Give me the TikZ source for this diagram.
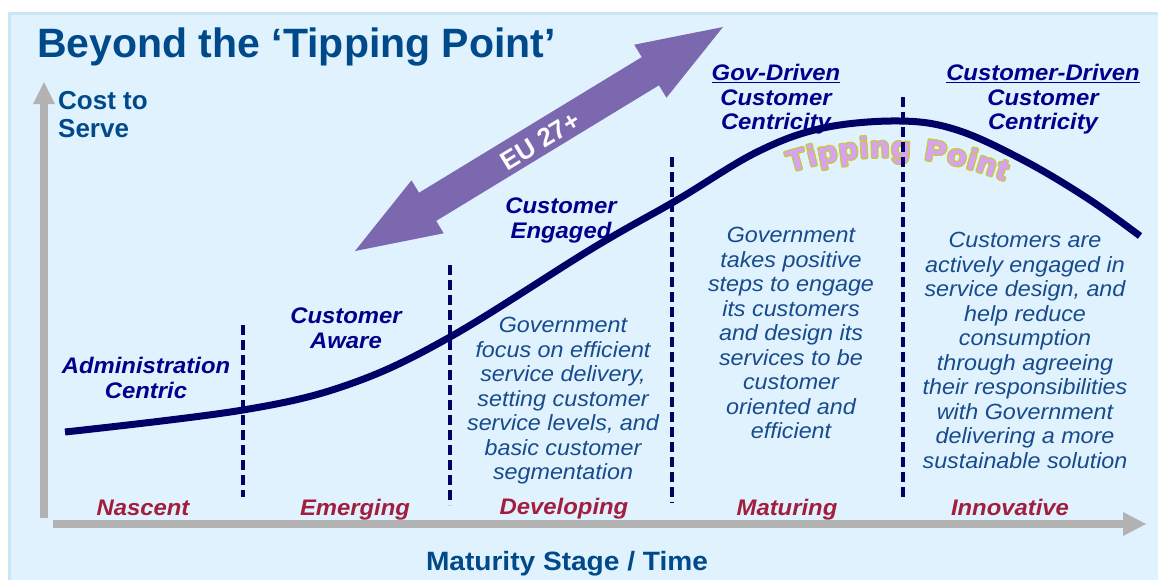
\documentclass[tikz,border=0pt]{standalone}
\usepackage{fontspec}
\setmainfont{Liberation Sans}
\newfontfamily\bodyfont[FakeStretch=1.06]{Liberation Sans}
\newfontfamily\tipfont[FakeBold=2.6,FakeStretch=1.08]{Liberation Sans}
\usetikzlibrary{decorations.text}
\definecolor{bgfill}{HTML}{E0F2FD}
\definecolor{bgline}{HTML}{C9E6F4}
\definecolor{axisgray}{HTML}{B2B2B2}
\definecolor{curvenavy}{HTML}{000066}
\definecolor{headnavy}{HTML}{00008C}
\definecolor{descblue}{HTML}{174B8E}
\definecolor{titleblue}{HTML}{004A8C}
\definecolor{stagered}{HTML}{A11E3F}
\definecolor{arrowpurple}{HTML}{7B68AE}
\definecolor{tipviolet}{HTML}{D7A2F2}
\definecolor{tipoutline}{HTML}{C8C83C}
\begin{document}
\begin{tikzpicture}[x=1pt,y=-1pt,
  heading/.style={inner sep=0pt, anchor=north, align=center, text=headnavy,
    font=\bodyfont\bfseries\itshape\fontsize{22.5}{24.5}\selectfont},
  desc/.style={inner sep=0pt, anchor=north, align=center, text=descblue,
    font=\bodyfont\itshape\fontsize{22}{24.5}\selectfont},
  stage/.style={inner sep=0pt, anchor=base, text=stagered,
    font=\bodyfont\bfseries\itshape\fontsize{22.5}{27}\selectfont},
  divider/.style={curvenavy, line width=3.2pt, dash pattern=on 10pt off 5pt},
  tipword/.style n args={2}{decorate, decoration={text along path, text align={fit to path},
    text color=#1, text={|\tipfont\bfseries\fontsize{29}{34}\selectfont|#2}}}]
\useasboundingbox (0,0) rectangle (1158,579);
% background panel
\fill[white] (0,0) rectangle (1158,579);
\fill[bgfill] (9,12) rectangle (1162,583);
\draw[bgline, line width=3pt] (9.5,13.5) rectangle (1162,583);

% title and axis labels
\node[inner sep=0pt, anchor=base west, text=titleblue,
  font=\bfseries\fontsize{41}{49}\selectfont] (title) at (37,57) {Beyond the ‘Tipping Point’};
\node[inner sep=0pt, anchor=north west, align=left, text=titleblue,
  font=\bfseries\fontsize{26}{28}\selectfont] (ylabel) at (58,91) {Cost to\\Serve};
\node[inner sep=0pt, anchor=base, text=titleblue,
  font=\bodyfont\bfseries\fontsize{26.5}{30}\selectfont] (xlabel) at (567,570) {Maturity Stage / Time};

% axes
\fill[axisgray] (40,518) rectangle (48,103);
\fill[axisgray] (33,104) -- (44,82) -- (55,104) -- cycle;
\fill[axisgray] (53,520) rectangle (1123,528);
\fill[axisgray] (1123,512) -- (1146,524) -- (1123,536) -- cycle;

% EU 27+ double arrow
\fill[arrowpurple, shift={(355,251)}, rotate=31.33]
  (0,0) -- (85,-31) -- (85,-16.5) -- (345.8,-16.5) -- (345.8,-31) -- (430.8,0)
  -- (345.8,31) -- (345.8,16.5) -- (85,16.5) -- (85,31) -- cycle;
\node[inner sep=0pt, text=white, rotate=31.33,
  font=\bfseries\fontsize{26}{30}\selectfont] (eu) at (540,141) {EU 27+};

% Tipping Point arched text (two words, each fitted to its part of the arc)
\foreach \dx/\dy in {-1.3/0,1.3/0,0/-1.3,0/1.3,-0.9/-0.9,0.9/0.9,-0.9/0.9,0.9/-0.9}{
  \path[tipword={tipoutline}{Tipping}, shift={(\dx,\dy)}] (790,172) .. controls (830,159.4) and (870,154.7) .. (910,158);
  \path[tipword={tipoutline}{Point}, shift={(\dx,\dy)}] (924,159.5) .. controls (950.7,163) and (977.3,170) .. (1004,180.5);
}
\path[tipword={tipviolet}{Tipping}] (790,172) .. controls (830,159.4) and (870,154.7) .. (910,158);
\path[tipword={tipviolet}{Point}] (924,159.5) .. controls (950.7,163) and (977.3,170) .. (1004,180.5);

% stage headings
\node[heading] (hadmin) at (146,357) {Administration\\Centric};
\node[heading] (haware) at (346,308) {Customer\\Aware};
\node[heading] (hengaged) at (561,198) {Customer\\Engaged};
\node[heading] (hgov) at (776,64) {\underline{Gov-Driven}\\Customer\\Centricity};
\node[heading] (hcust) at (1043,64) {\underline{Customer-Driven}\\Customer\\Centricity};

% descriptions
\node[desc] (ddev) at (563,317) {Government\\focus on efficient\\service delivery,\\setting customer\\service levels, and\\basic customer\\segmentation};
\node[desc] (dmat) at (791,227) {Government\\takes positive\\steps to engage\\its customers\\and design its\\services to be\\customer\\oriented and\\efficient};
\node[desc] (dinn) at (1025,232) {Customers are\\actively engaged in\\service design, and\\help reduce\\consumption\\through agreeing\\their responsibilities\\with Government\\delivering a more\\sustainable solution};

% stage labels
\node[stage] (snas) at (143,515) {Nascent};
\node[stage] (seme) at (355,515) {Emerging};
\node[stage] (sdev) at (564,514) {Developing};
\node[stage] (smat) at (787,515) {Maturing};
\node[stage] (sinn) at (1010,515) {Innovative};

% maturity curve
\draw[curvenavy, line width=7pt] plot[smooth, tension=0.6] coordinates {
  (65,432) (243,410) (350,384) (450,337) (593,248)
  (677,200) (757,152) (823,128) (900,121) (957,130) (1023,160) (1087,198) (1140,236)};

% dividers
\draw[divider] (243,325) -- (243,497);
\draw[divider] (450,265) -- (450,505);
\draw[divider] (672,157) -- (672,503);
\draw[divider] (903,97) -- (903,497);
\end{tikzpicture}
\end{document}
